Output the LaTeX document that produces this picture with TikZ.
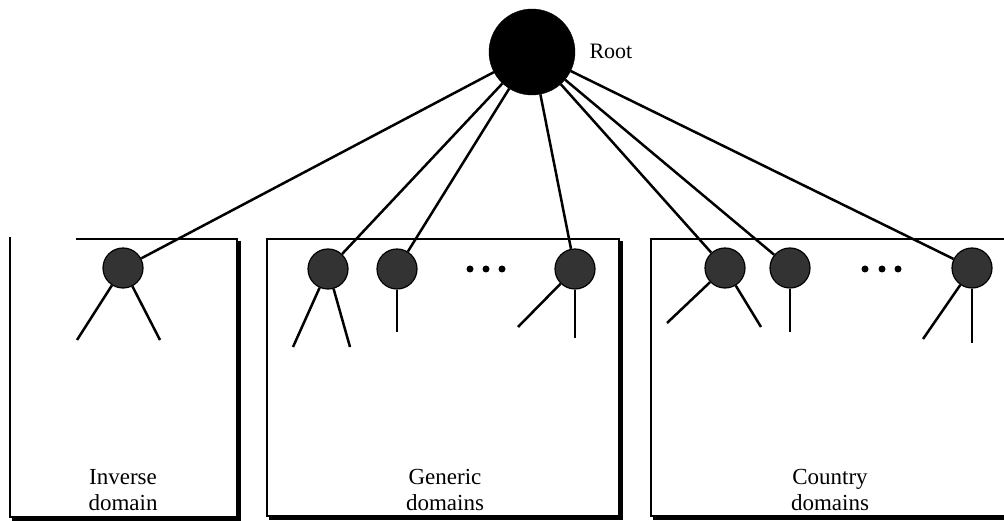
\documentclass[tikz,border=0pt]{standalone}
\usepackage{fontspec}
\setmainfont{Liberation Serif}
\usepackage{tikz}
\usetikzlibrary{positioning}
\tikzset{
  rootnode/.style={circle, fill=black, draw=black, minimum size=86pt, inner sep=0pt},
  dom/.style={circle, fill=black!80, draw=black, line width=1.2pt, minimum size=40pt, inner sep=0pt},
  edge/.style={line width=2.5pt},
  boxline/.style={line width=2pt},
  shade/.style={line width=4pt},
  dot/.style={circle, fill=black, inner sep=0pt, minimum size=7pt},
  lbl/.style={font=\fontsize{23}{26}\selectfont, align=center}
}
\begin{document}
\begin{tikzpicture}[x=1pt, y=-1pt]
\useasboundingbox (0,0) rectangle (1004,521);
\clip (0,0) rectangle (1004,521);
% domain boxes
\draw[boxline] (76,239) -- (237,239) -- (237,517) -- (10,517) -- (10,237);
\draw[shade] (239,241) -- (239,519) -- (12,519);
\draw[boxline] (267,239) rectangle (619,516);
\draw[shade] (621,241) -- (621,518) -- (269,518);
\draw[boxline] (651,239) rectangle (1010,516);
\draw[shade] (653,518) -- (1010,518);
% root
\node[rootnode] (root) at (532,52) {};
\node[lbl, font=\fontsize{22}{26}\selectfont, anchor=west] (rootlbl) at (586,51) {Root};
% second level
\node[dom] (inv) at (123,268) {};
\node[dom] (gen1) at (328,269) {};
\node[dom] (gen2) at (397,269) {};
\node[dom] (gen3) at (575,269) {};
\node[dom] (cty1) at (725,268) {};
\node[dom] (cty2) at (790,268) {};
\node[dom] (cty3) at (972,268) {};
\foreach \n in {inv,gen1,gen2,gen3,cty1,cty2,cty3}
  \draw[edge] (root) -- (\n);
% dots between nodes
\foreach \x in {470,486,502} \node[dot] at (\x,269) {};
\foreach \x in {865,882,898} \node[dot] at (\x,269) {};
% subtrees
\coordinate (invL) at (77,340);
\coordinate (invR) at (160,340);
\coordinate (gen1L) at (293,347);
\coordinate (gen1R) at (350,347);
\coordinate (gen2D) at (397,332);
\coordinate (gen3L) at (518,327);
\coordinate (gen3D) at (575,338);
\coordinate (cty1L) at (667,323);
\coordinate (cty1R) at (761,327);
\coordinate (cty2D) at (790,332);
\coordinate (cty3L) at (923,339);
\coordinate (cty3D) at (972,343);
\draw[edge] (inv) -- (invL);
\draw[edge] (inv) -- (invR);
\draw[edge] (gen1) -- (gen1L);
\draw[edge] (gen1) -- (gen1R);
\draw[edge] (gen2.south) -- (gen2D);
\draw[edge] (gen3) -- (gen3L);
\draw[edge] (gen3.south) -- (gen3D);
\draw[edge] (cty1) -- (cty1L);
\draw[edge] (cty1) -- (cty1R);
\draw[edge] (cty2.south) -- (cty2D);
\draw[edge] (cty3) -- (cty3L);
\draw[edge] (cty3.south) -- (cty3D);
% labels
\node[lbl] (invlbl) at (123,490) {Inverse\\domain};
\node[lbl] (genlbl) at (445,490) {Generic\\domains};
\node[lbl] (ctylbl) at (830,490) {Country\\domains};
\end{tikzpicture}
\end{document}
